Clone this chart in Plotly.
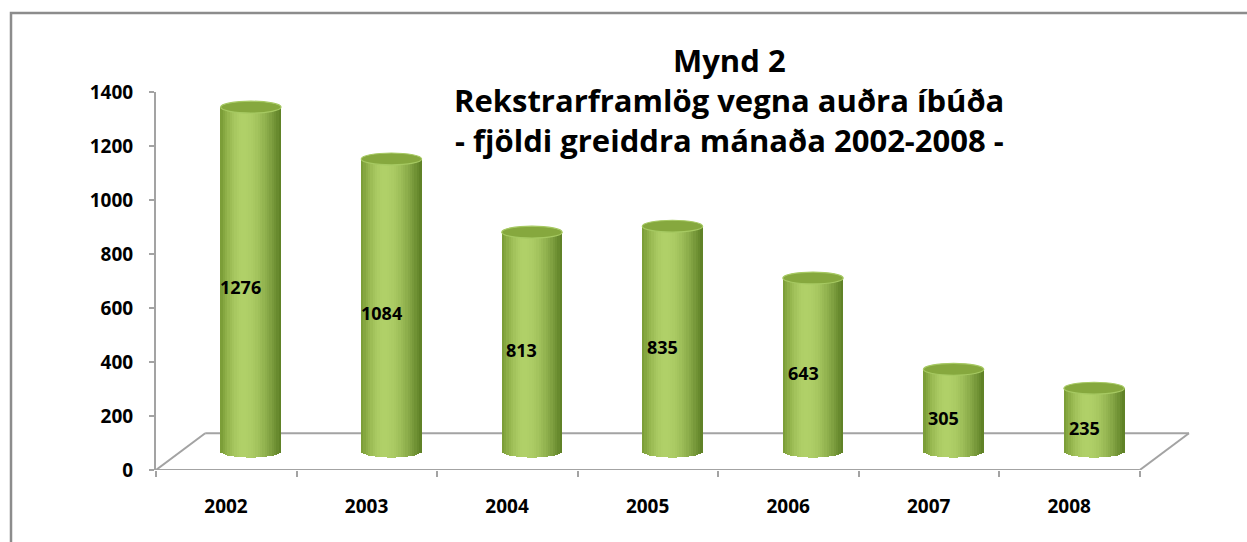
import numpy as np
import plotly.graph_objects as go

# ---- data ----
years = ["2002", "2003", "2004", "2005", "2006", "2007", "2008"]
months_paid = [1276, 1084, 813, 835, 643, 305, 235]
y_ticks = [0, 200, 400, 600, 800, 1000, 1200, 1400]
title_lines = ["Mynd 2",
               "Rekstrarframlög vegna auðra íbúða",
               "- fjöldi greiddra mánaða 2002-2008 -"]

# ---- layout geometry (styling) ----
W, H = 1247, 542
ML, MR, MT, MB = 156, 51, 92, 72
X_MIN, X_MAX = -0.5, 6.9
Y_MIN, Y_MAX = 0, 1400
DEPTH_X, DEPTH_Y = 0.35, 136          # 3D floor depth in axis units
CYL_W = 0.43                           # cylinder width (category units)
CYL_SHIFT = DEPTH_X / 2                # cylinders sit in the middle of the depth
CYL_BASE = DEPTH_Y / 2
ELL = 22                               # ellipse half height in y-units
N_STRIPS = 26
FONT = "Open Sans"
GRAY = "#a3a3a3"

pos = np.arange(len(years), dtype=float)
vals = np.array(months_paid, dtype=float)
px_per_x = (W - ML - MR) / (X_MAX - X_MIN)


def shade(u):
    left = np.array([120, 154, 52])
    light = np.array([176, 208, 104])
    right = np.array([92, 126, 36])
    peak = 0.38
    if u < peak:
        t = np.sin(u / peak * np.pi / 2)
        c = left + (light - left) * t
    else:
        t = np.cos((u - peak) / (1 - peak) * np.pi / 2)
        c = right + (light - right) * t
    return "rgb(%d,%d,%d)" % tuple(np.round(c))


fig = go.Figure()

strip_w = CYL_W / N_STRIPS
for k in range(N_STRIPS):
    u = (k + 0.5) / N_STRIPS
    curve = ELL * np.sqrt(max(0.0, 1 - (2 * u - 1) ** 2))
    fig.add_trace(go.Bar(
        x=pos, y=vals + curve, base=CYL_BASE - curve,
        width=strip_w * 1.15,
        offset=CYL_SHIFT - CYL_W / 2 + k * strip_w - strip_w * 0.075,
        marker=dict(color=shade(u), line=dict(width=0)),
        showlegend=False, hoverinfo="skip",
    ))

shapes = []
# floor outline (behind the cylinders)
fx0, fx1 = pos[0] - 0.5, pos[-1] + 0.5
floor = [
    (fx0, 0, fx0 + DEPTH_X, DEPTH_Y),
    (fx0 + DEPTH_X, DEPTH_Y, fx1 + DEPTH_X, DEPTH_Y),
    (fx1, 0, fx1 + DEPTH_X, DEPTH_Y),
    (fx0, 0, fx1, 0),
]
for (a, b, c, d) in floor:
    shapes.append(dict(type="line", xref="x", yref="y", x0=a, y0=b, x1=c, y1=d,
                       line=dict(color=GRAY, width=2), layer="below"))

# cylinder caps
for p, v in zip(pos, vals):
    cx = p + CYL_SHIFT
    shapes.append(dict(type="circle", xref="x", yref="y",
                       x0=cx - CYL_W / 2, x1=cx + CYL_W / 2,
                       y0=CYL_BASE + v - ELL, y1=CYL_BASE + v + ELL,
                       fillcolor="#86a83e", line=dict(color="#a6c962", width=1.2),
                       layer="above"))

# outer chart border
shapes.append(dict(type="rect", xref="paper", yref="paper",
                   x0=(11 - ML) / (W - ML - MR), x1=(W + 5 - ML) / (W - ML - MR),
                   y0=(H - MB - (H + 5)) / (H - MT - MB), y1=(H - MB - 13) / (H - MT - MB),
                   line=dict(color="#8c8c8c", width=2.5), fillcolor="rgba(0,0,0,0)"))

annotations = []
for p, v in zip(pos, months_paid):
    annotations.append(dict(x=p + CYL_SHIFT, y=CYL_BASE + v / 2, xref="x", yref="y",
                            text=str(v), showarrow=False, xshift=-10, yshift=-8,
                            font=dict(family=FONT, size=18, color="#000000", weight="bold")))

title_center_px = 729
for i, line in enumerate(title_lines):
    ypx = 60 + 40 * i
    annotations.append(dict(x=(title_center_px - ML) / (W - ML - MR),
                            y=(H - MB - ypx) / (H - MT - MB),
                            xref="paper", yref="paper", text=line, showarrow=False,
                            xanchor="center", yanchor="middle",
                            font=dict(family=FONT, size=31, color="#000000", weight="bold")))

boundaries = list(pos - 0.5) + [pos[-1] + 0.5]
fig.update_layout(
    width=W, height=H,
    margin=dict(l=ML, r=MR, t=MT, b=MB),
    paper_bgcolor="white", plot_bgcolor="white",
    barmode="overlay", bargap=0,
    showlegend=False,
    shapes=shapes, annotations=annotations,
    xaxis=dict(range=[X_MIN, X_MAX], tickmode="array", tickvals=boundaries,
               ticktext=years + [""], ticks="outside", ticklen=6, tickwidth=2,
               tickcolor=GRAY, showline=False, showgrid=False, zeroline=False,
               ticklabelshift=int(round(px_per_x / 2)), ticklabelstandoff=13,
               tickfont=dict(family=FONT, size=19, color="#000000", weight="bold")),
    yaxis=dict(range=[Y_MIN, Y_MAX], tickmode="array", tickvals=y_ticks,
               ticks="outside", ticklen=5, tickwidth=2, tickcolor=GRAY,
               showline=True, linecolor=GRAY, linewidth=2,
               showgrid=False, zeroline=False, ticklabelstandoff=12,
               tickfont=dict(family=FONT, size=19, color="#000000", weight="bold")),
)

fig.write_html("out.html", config={"displayModeBar": False},
               post_script="document.body.style.margin='0';document.body.style.overflow='hidden';")
